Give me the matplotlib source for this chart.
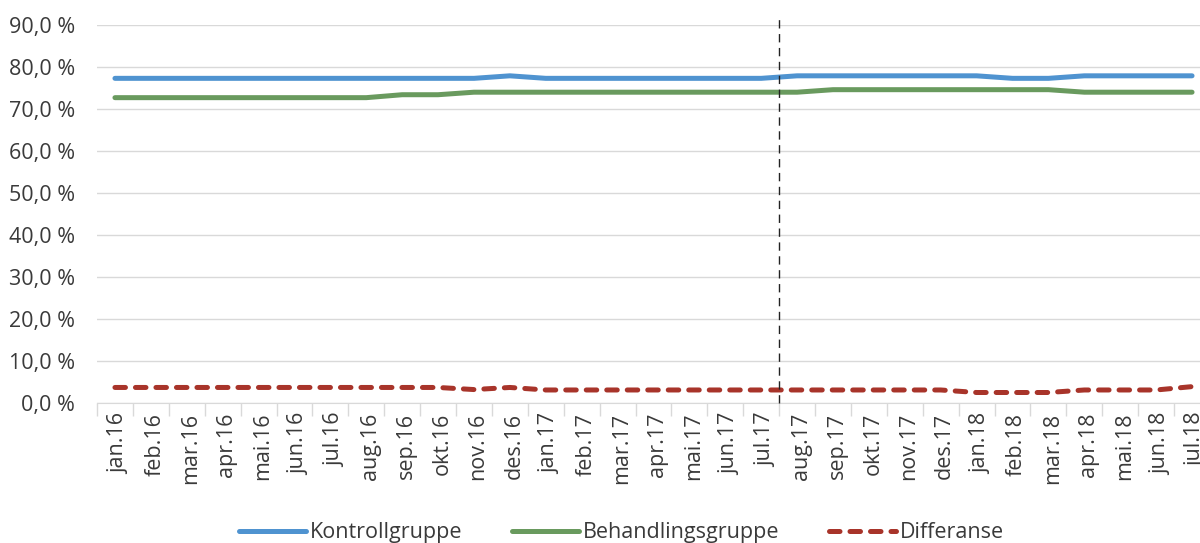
import numpy as np
import matplotlib
matplotlib.use('Agg')
import matplotlib.pyplot as plt
from matplotlib.ticker import FuncFormatter
from matplotlib.transforms import ScaledTranslation

plt.rcParams['font.family'] = ['Open Sans', 'DejaVu Sans']

months = ['jan.16', 'feb.16', 'mar.16', 'apr.16', 'mai.16', 'jun.16', 'jul.16', 'aug.16',
          'sep.16', 'okt.16', 'nov.16', 'des.16', 'jan.17', 'feb.17', 'mar.17', 'apr.17',
          'mai.17', 'jun.17', 'jul.17', 'aug.17', 'sep.17', 'okt.17', 'nov.17', 'des.17',
          'jan.18', 'feb.18', 'mar.18', 'apr.18', 'mai.18', 'jun.18', 'jul.18']

kontroll = [77.3] * 11 + [77.9] + [77.3] * 7 + [77.9] * 6 + [77.3] * 2 + [77.9] * 4
behandling = [72.7] * 8 + [73.4] * 2 + [74.0] * 10 + [74.6] * 7 + [74.0] * 4
differanse = [3.7] * 10 + [3.2] + [3.7] + [3.1] * 12 + [2.5] * 3 + [3.1] * 3 + [3.9]

# cut-off marker between jul.17 and aug.17
cutoff = 18.5

text_col = '#3a3a3a'
fs = 15.5

fig = plt.figure(figsize=(12, 5.43), dpi=100)
ax = fig.add_axes([97 / 1200, 1 - 403 / 543, 1113 / 1200, 378 / 543])

x = np.arange(len(months))
ax.plot(x, kontroll, color='#4f93d0', lw=3.6, solid_capstyle='round', label='Kontrollgruppe', zorder=3)
ax.plot(x, behandling, color='#699a5e', lw=3.6, solid_capstyle='round', label='Behandlingsgruppe', zorder=3)
ax.plot(x, differanse, color='#a8342a', lw=3.6, ls=(0, (2.1, 2.0)), dash_capstyle='round',
        label='Differanse', zorder=3)

ax.plot([cutoff, cutoff], [0, 92], color='#222222', lw=1.0, ls=(0, (6, 4)), clip_on=False, zorder=4)

ax.set_xlim(-0.5, len(months) - 0.5)
ax.set_ylim(0, 90)
ax.set_yticks(np.arange(0, 91, 10))
ax.yaxis.set_major_formatter(FuncFormatter(lambda v, p: ('%.1f %%' % v).replace('.', ',')))
ax.grid(axis='y', color='#d9d9d9', lw=1.0)
ax.set_axisbelow(True)

ax.set_xticks(x)
ax.set_xticklabels(months, rotation=90)
ax.set_xticks(np.arange(-0.5, len(months), 1), minor=True)
ax.tick_params(axis='x', which='major', length=0, pad=7, labelsize=fs, labelcolor=text_col)
ax.tick_params(axis='x', which='minor', length=9, color='#d9d9d9', width=1)
ax.tick_params(axis='y', length=0, pad=16, labelsize=fs, labelcolor=text_col)
shift = ScaledTranslation(4 / 100, 0, fig.dpi_scale_trans)
for lbl in ax.get_xticklabels():
    lbl.set_transform(lbl.get_transform() + shift)

for s in ['top', 'right', 'left']:
    ax.spines[s].set_visible(False)
ax.spines['bottom'].set_color('#d9d9d9')

fig.legend(loc='lower center', bbox_to_anchor=(0.518, -0.036), ncol=3, frameon=False,
           fontsize=fs, handlelength=3.1, handletextpad=0.2, columnspacing=2.3,
           labelcolor=text_col)

plt.savefig('out.png', dpi=100)
